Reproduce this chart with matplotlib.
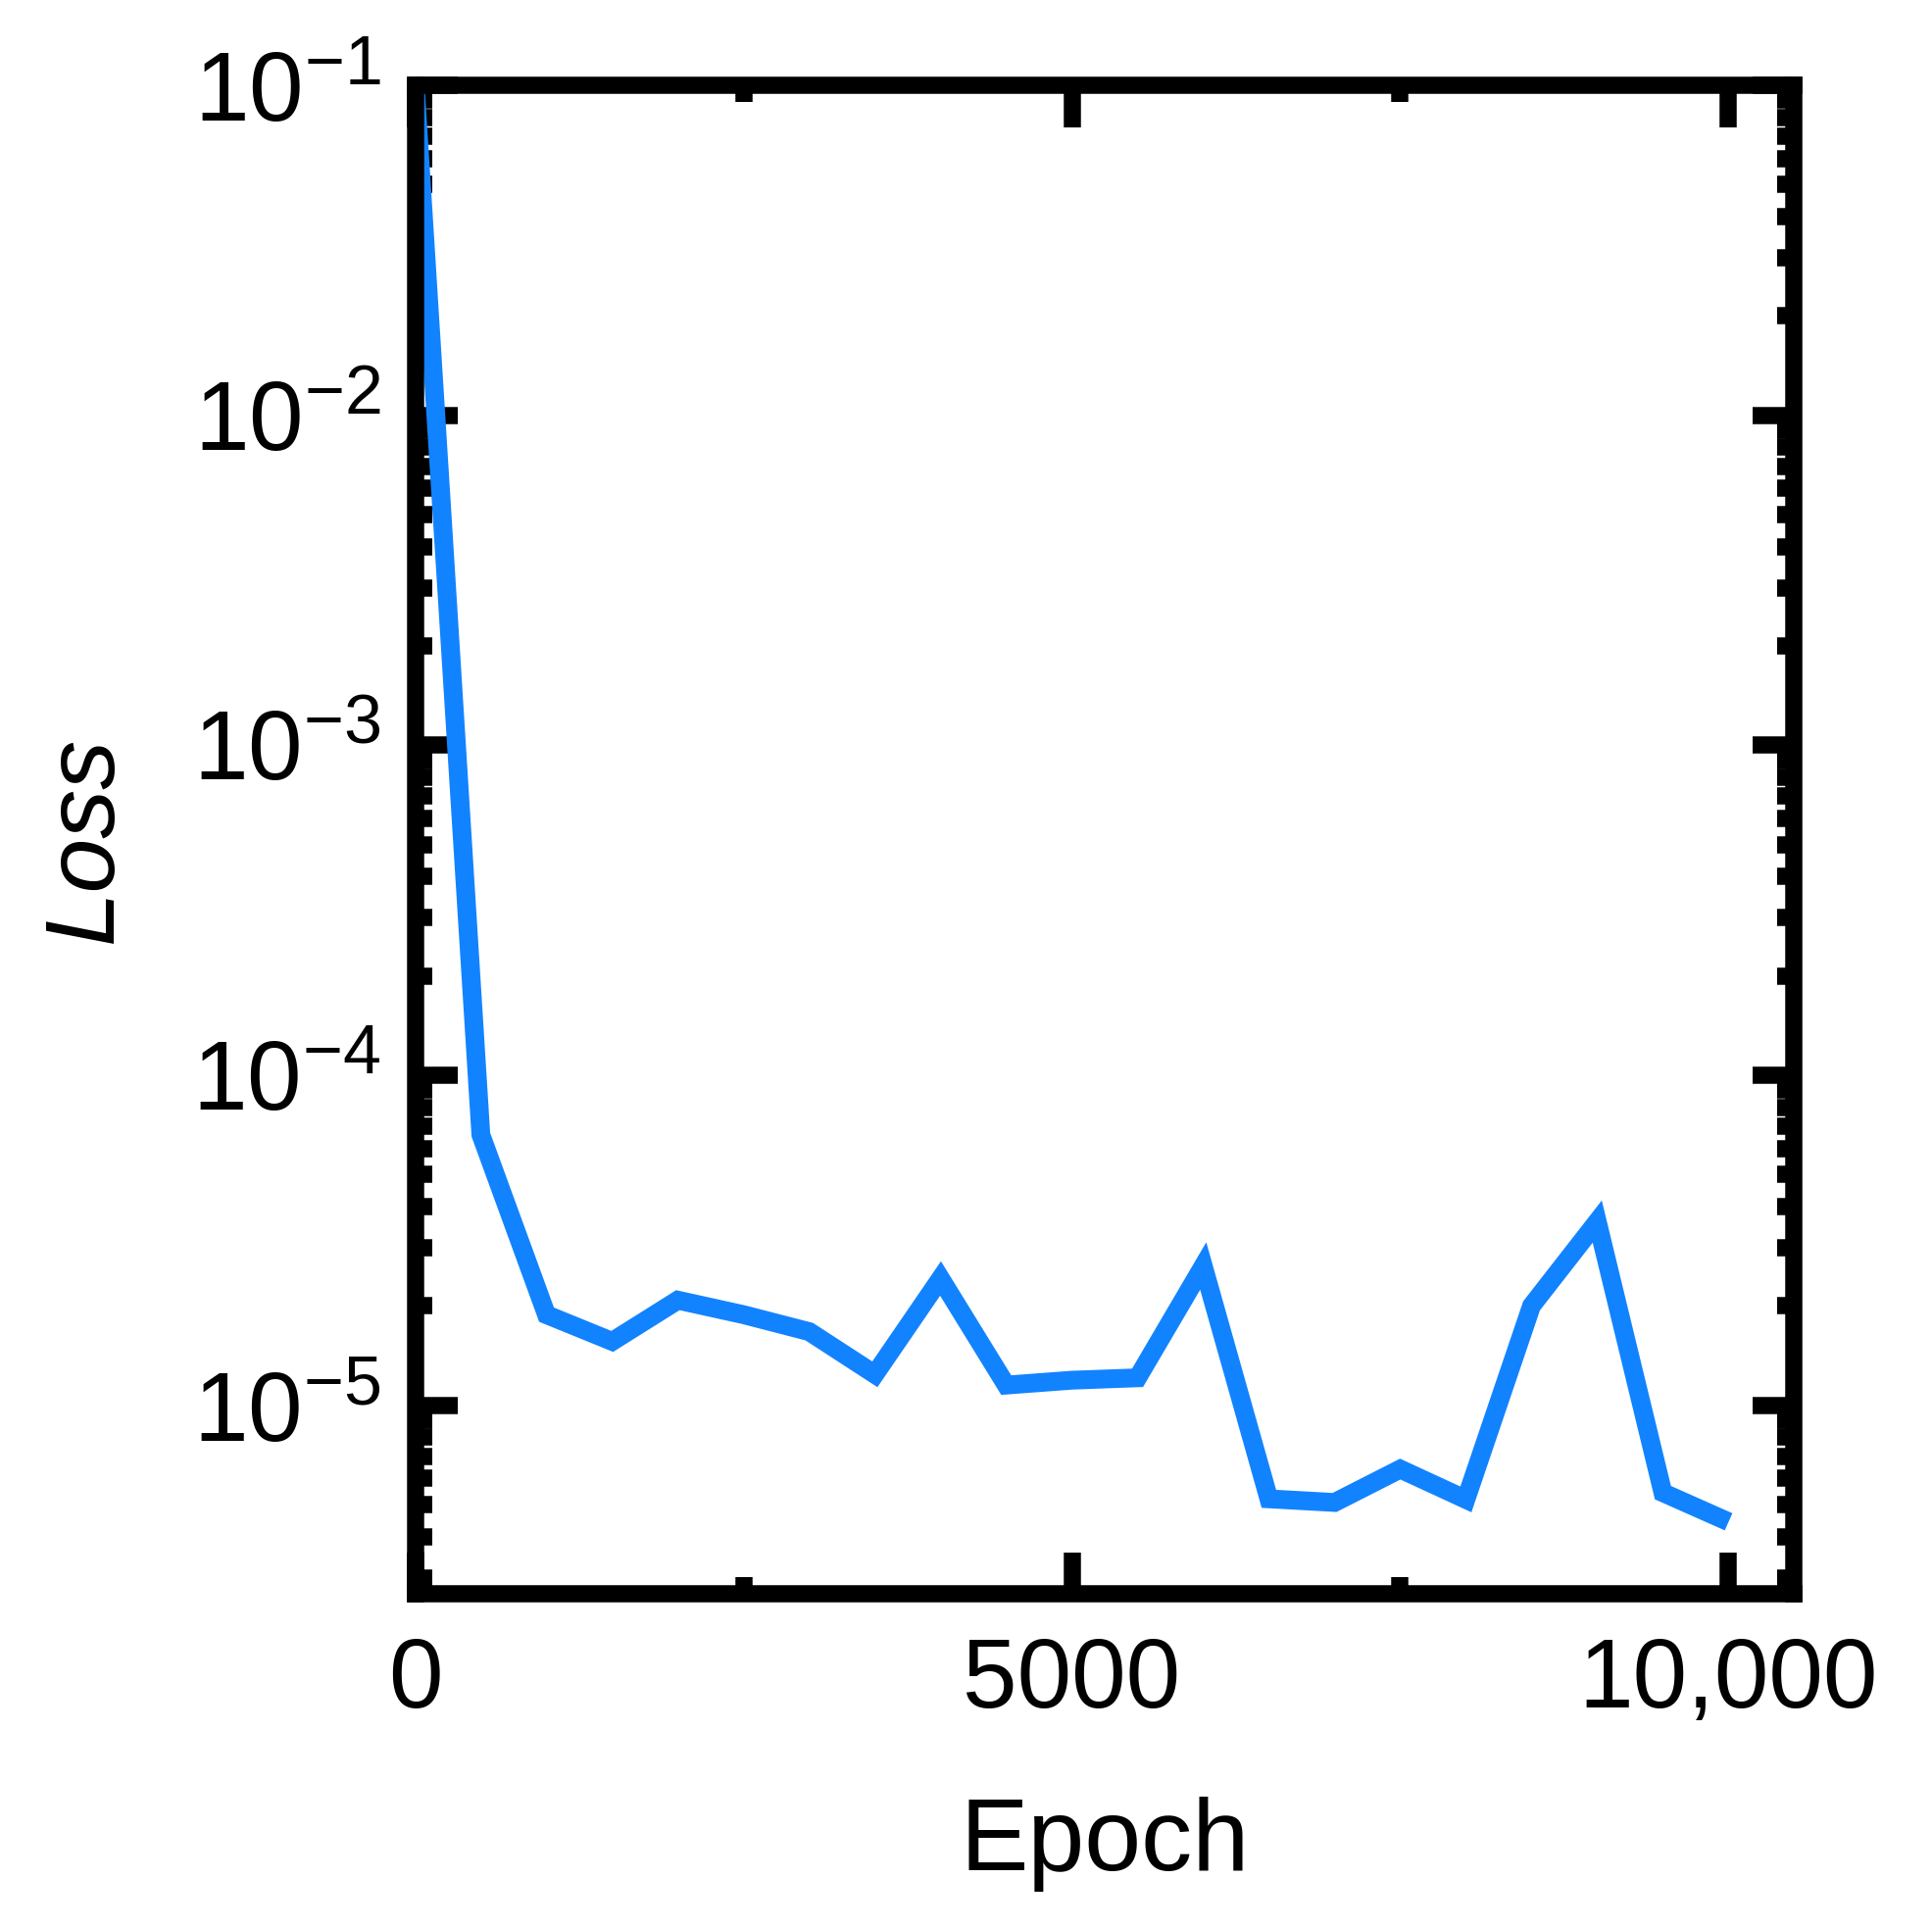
import matplotlib
matplotlib.use("Agg")
import matplotlib.pyplot as plt
from matplotlib.ticker import FixedLocator, FixedFormatter, LogLocator, MultipleLocator

plt.rcParams['font.family'] = ['Liberation Sans', 'DejaVu Sans']
plt.rcParams['mathtext.fontset'] = 'custom'
plt.rcParams['mathtext.rm'] = 'Liberation Sans'
plt.rcParams['mathtext.it'] = 'Liberation Sans:italic'

# ---- data ----
epochs = [0, 500, 1000, 1500, 2000, 2500, 3000, 3500, 4000, 4500, 5000,
          5500, 6000, 6500, 7000, 7500, 8000, 8500, 9000, 9500, 10000]
loss = [1.0e-1, 6.6e-5, 1.88e-5, 1.56e-5, 2.08e-5, 1.88e-5, 1.67e-5, 1.24e-5,
        2.42e-5, 1.15e-5, 1.19e-5, 1.21e-5, 2.64e-5, 5.2e-6, 5.07e-6, 6.4e-6,
        5.18e-6, 2.0e-5, 3.6e-5, 5.43e-6, 4.43e-6]

x_ticks = [0, 5000, 10000]
x_tick_labels = ["0", "5000", "10,000"]
y_ticks = [1e-5, 1e-4, 1e-3, 1e-2, 1e-1]
y_tick_labels = [r"$10^{-5}$", r"$10^{-4}$", r"$10^{-3}$", r"$10^{-2}$", r"$10^{-1}$"]

W, H, DPI = 1971, 1967, 300
fig = plt.figure(figsize=(W / DPI, H / DPI), dpi=DPI)
ax = fig.add_axes([0.2149, 0.1736, 0.9287 - 0.2149, 0.9558 - 0.1736])

ax.plot(epochs, loss, color='#1283FF', lw=4.6, solid_joinstyle='miter',
        solid_capstyle='butt')

ax.set_yscale('log')
ax.set_xlim(0, 10500)
ax.set_ylim(2.69e-6, 1e-1)

ax.xaxis.set_major_locator(FixedLocator(x_ticks))
ax.xaxis.set_major_formatter(FixedFormatter(x_tick_labels))
ax.xaxis.set_minor_locator(MultipleLocator(2500))
ax.yaxis.set_major_locator(FixedLocator(y_ticks))
ax.yaxis.set_major_formatter(FixedFormatter(y_tick_labels))
ax.yaxis.set_minor_locator(LogLocator(base=10, subs=range(2, 10), numticks=20))

for s in ax.spines.values():
    s.set_linewidth(4.2)

ax.tick_params(which='both', direction='in', top=True, right=True, width=4.2,
               labelsize=24, color='black')
ax.tick_params(which='major', length=10.2)
ax.tick_params(which='minor', length=4.0)
ax.tick_params(axis='x', which='major', pad=10.5)
ax.tick_params(axis='y', which='major', pad=8.5)

ax.set_xlabel("Epoch", fontsize=25)
ax.set_ylabel("Loss", fontsize=24, fontstyle='italic')
ax.xaxis.set_label_coords(0.5, -0.135)
ax.yaxis.set_label_coords(-0.205, 0.5)

fig.savefig("out.png", dpi=DPI, facecolor='white')
